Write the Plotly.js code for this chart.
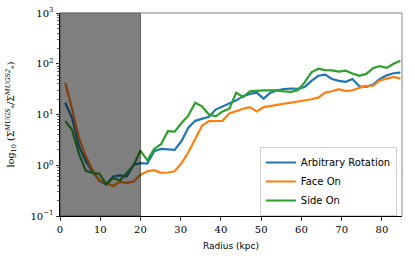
<!DOCTYPE html>
<html>
<head>
<meta charset="utf-8">
<script src="https://cdn.plot.ly/plotly-3.0.1.min.js"></script>
<style>html,body{margin:0;padding:0;background:#fff;}#chart{width:415px;height:262px;}</style>
</head>
<body>
<div id="chart"></div>
<script>
const radius = [1.3,3.0,4.7,6.4,8.1,9.8,11.5,13.2,14.9,16.6,18.3,20.0,21.7,23.4,25.1,26.8,28.5,30.2,31.9,33.6,35.3,37.0,38.7,40.4,42.1,43.8,45.5,47.2,48.9,50.6,52.3,54.0,55.7,57.4,59.1,60.8,62.5,64.2,65.9,67.6,69.3,71.0,72.7,74.4,76.1,77.8,79.5,81.2,82.9,84.6];
const arbitraryRotation = [17,8.5,2.4,1.2,0.75,0.5,0.42,0.6,0.63,0.6,1.03,1.1,1.08,1.9,2.1,2.05,2.0,3.0,5.5,7.5,8.3,9.0,12.5,14.5,16.5,19,23,25.5,27,20.5,27,30,31.5,32.5,32,35,46,58,61,50,46,44,50,36,35,39,50,59,65,67];
const faceOn = [42,13,3.5,1.5,0.8,0.5,0.45,0.39,0.47,0.45,0.48,0.65,0.76,0.8,0.71,0.72,0.76,1.1,1.8,3.2,6.0,7.4,7.4,7.5,10.5,11.8,13,14,11.5,14,14.7,15.3,16.2,17,17.8,18.7,20,21.5,27,28.7,31.5,29,30,33.5,36.5,37,47,51,55,51];
const sideOn = [7.4,5.0,1.7,0.78,0.71,0.68,0.42,0.56,0.5,0.7,1.0,1.95,1.25,2.1,2.6,4.7,4.6,6.8,9.5,17,14.5,10,9.2,11.5,13,27,22,28.5,29.5,30,30,30,28.5,28,30,43,68,80,75,74,70,73,64,58,63,82,90,83,100,115];
const seriesNames = ["Arbitrary Rotation","Face On","Side On"];
const colors = ["#1f77b4","#ff7f0e","#2ca02c"];
const yTickVals = [0.1,1,10,100,1000];
const yTickText = ["10<sup>−1</sup>","10<sup>0</sup>","10<sup>1</sup>","10<sup>2</sup>","10<sup>3</sup>"];
const xTickVals = [0,10,20,30,40,50,60,70,80];

const minorVals = [];
for (let d = -1; d < 3; d++) for (let m = 2; m <= 9; m++) minorVals.push(m * Math.pow(10, d));

const serif = "DejaVu Serif, Liberation Serif, serif";
const sans = "DejaVu Sans, sans-serif";

const data = [arbitraryRotation, faceOn, sideOn].map((ys, i) => ({
  x: radius, y: ys, type: "scatter", mode: "lines", name: seriesNames[i],
  line: {color: colors[i], width: 2.2}
}));

const layout = {
  width: 415, height: 262,
  margin: {l: 60, r: 13, t: 13, b: 46},
  paper_bgcolor: "#fff", plot_bgcolor: "#fff",
  showlegend: true,
  legend: {
    x: 0.985, xanchor: "right", y: 0.0, yanchor: "bottom",
    bgcolor: "rgba(255,255,255,0.85)", bordercolor: "#d0d0d0", borderwidth: 1,
    font: {family: sans, size: 10, color: "#000"}, itemwidth: 30, tracegroupgap: 0
  },
  xaxis: {
    range: [0, 85], showgrid: false, zeroline: false,
    tickmode: "array", tickvals: xTickVals,
    ticks: "outside", ticklen: 3.5, tickwidth: 0.8, tickcolor: "#000",
    showline: true, linecolor: "#000", linewidth: 1,
    tickfont: {family: serif, size: 10, color: "#000"},
    title: {text: "Radius (kpc)", font: {family: sans, size: 9, color: "#000"}, standoff: 9}
  },
  yaxis: {
    type: "log", range: [-1, 3], showgrid: false, zeroline: false,
    tickmode: "array", tickvals: yTickVals, ticktext: yTickText,
    ticks: "outside", ticklen: 3.5, tickwidth: 0.8, tickcolor: "#000",
    showline: true, linecolor: "#000", linewidth: 1,
    tickfont: {family: serif, size: 10, color: "#000"},
    minor: {tickmode: "array", tickvals: minorVals, ticks: "outside", ticklen: 2, tickwidth: 0.6, tickcolor: "#000", showgrid: false},
    title: {text: "log<sub>10</sub> (Σ<sup><i>MUGS</i></sup><sub>*</sub>/Σ<sup><i>MUGS2</i></sup><sub>*</sub>)", font: {family: serif, size: 9.5, color: "#000"}, standoff: 14}
  },
  shapes: [
    {type: "rect", xref: "x", yref: "paper", x0: 0, x1: 20, y0: 0, y1: 1,
     fillcolor: "rgba(0,0,0,0.5)", line: {color: "rgba(0,0,0,0.5)", width: 1}, layer: "above"},
    {type: "line", xref: "paper", yref: "paper", x0: 0, x1: 1, y0: 1, y1: 1, line: {color: "#808080", width: 1}},
    {type: "line", xref: "paper", yref: "paper", x0: 1, x1: 1, y0: 0, y1: 1, line: {color: "#808080", width: 1}}
  ]
};

Plotly.newPlot("chart", data, layout, {displayModeBar: false, staticPlot: true});
</script>
</body>
</html>
